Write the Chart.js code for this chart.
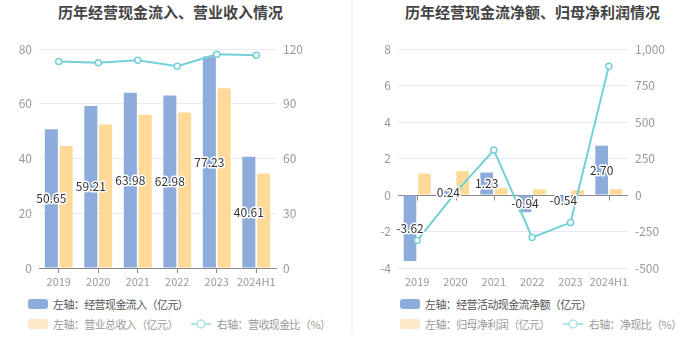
<!DOCTYPE html>
<html><head><meta charset="utf-8">
<script src="https://cdn.jsdelivr.net/npm/chart.js@4.4.0/dist/chart.umd.min.js"></script>
<style>
body{margin:0;width:700px;height:360px;background:#fff;font-family:"Noto Sans CJK SC",sans-serif;position:relative;overflow:hidden}
.title{position:absolute;top:2px;font-size:15px;font-weight:bold;color:#444;white-space:nowrap;line-height:20px}
canvas{position:absolute;top:0}
.sep{position:absolute;left:351px;top:0;width:2px;height:335px;background:#f4f4f4}
.leg{position:absolute;font-size:11px;letter-spacing:-0.6px;white-space:nowrap;display:flex;align-items:center;line-height:14px}
.box{width:20px;height:10px;border-radius:3px;margin-right:5px}
.dark{color:#555}.light{color:#999}
</style></head>
<body>
<div class="title" style="left:58px">历年经营现金流入、营业收入情况</div>
<div class="title" style="left:405px">历年经营现金流净额、归母净利润情况</div>
<div class="sep"></div>
<canvas id="c1" width="350" height="290" style="left:0"></canvas>
<canvas id="c2" width="348" height="290" style="left:352px"></canvas>

<div class="leg dark" style="left:28px;top:297px"><span class="box" style="background:#8dacdb"></span>左轴：经营现金流入（亿元）</div>
<div class="leg light" style="left:28px;top:317px"><span class="box" style="background:#fde8c8"></span>左轴：营业总收入（亿元）
<svg width="20" height="12" style="margin:0 6px 0 13px"><line x1="0" y1="6" x2="20" y2="6" stroke="#a9e3e7" stroke-width="2"/><circle cx="10" cy="6" r="4" fill="#fff" stroke="#a9e3e7" stroke-width="1.5"/></svg>右轴：营收现金比（%）</div>

<div class="leg dark" style="left:400px;top:297px"><span class="box" style="background:#8dacdb"></span>左轴：经营活动现金流净额（亿元）</div>
<div class="leg light" style="left:400px;top:317px"><span class="box" style="background:#fde8c8"></span>左轴：归母净利润（亿元）
<svg width="20" height="12" style="margin:0 6px 0 13px"><line x1="0" y1="6" x2="20" y2="6" stroke="#a9e3e7" stroke-width="2"/><circle cx="10" cy="6" r="4" fill="#fff" stroke="#a9e3e7" stroke-width="1.5"/></svg>右轴：净现比（%）</div>

<script>
const years = ['2019','2020','2021','2022','2023','2024H1'];
const cashInflow = [50.65,59.21,63.98,62.98,77.23,40.61];
const revenue = [44.6,52.4,56.0,56.8,65.7,34.5];
const cashRevenueRatio = [113.1,112.5,113.8,110.6,117.1,116.6];
const netCashFlow = [-3.62,0.24,1.23,-0.94,-0.54,2.70];
const netProfit = [1.17,1.31,0.38,0.31,0.26,0.31];
const netCashRatio = [-312,16,308,-291,-189,882];

Chart.defaults.font.family = '"Noto Sans CJK SC", sans-serif';
const BLUE='#8dacdb', ORANGE='#ffd997', TEAL='#74d0d7', GRID='#e6e9f4', TICK='#999';

const barLabels = {id:'barLabels', afterDatasetsDraw(chart){
  const meta = chart.getDatasetMeta(0), ctx = chart.ctx;
  ctx.save();
  ctx.font = '12px "Noto Sans CJK SC", sans-serif';
  ctx.textAlign='center'; ctx.textBaseline='middle';
  ctx.lineWidth=3; ctx.lineJoin='round'; ctx.strokeStyle='#fff'; ctx.fillStyle='#333';
  meta.data.forEach((bar,i)=>{
    const s = chart.data.datasets[0].data[i].toFixed(2);
    const y = (bar.y+bar.base)/2;
    ctx.strokeText(s,bar.x,y); ctx.fillText(s,bar.x,y);
  });
  ctx.restore();
}};

const zeroLine = {id:'zeroLine', beforeDatasetsDraw(chart){
  const y = Math.round(chart.scales.y.getPixelForValue(0))+0.5, ctx=chart.ctx, a=chart.chartArea;
  ctx.save(); ctx.strokeStyle='#888'; ctx.lineWidth=1;
  ctx.beginPath(); ctx.moveTo(a.left,y); ctx.lineTo(a.right,y);
  chart.scales.x.ticks.forEach((t,i)=>{const x=Math.round(chart.scales.x.getPixelForTick(i))+0.5; ctx.moveTo(x,y); ctx.lineTo(x,y+5);});
  ctx.stroke(); ctx.restore();
}};

function opts(lw, rw, ymin, ymax, ystep, y1min, y1max, y1step, fmt, showXBorder){
  return {
    responsive:false, animation:false,
    layout:{padding:{top:49,left:0,right:0,bottom:0}},
    plugins:{legend:{display:false}, tooltip:{enabled:false}},
    scales:{
      x:{offset:true,
         grid:{display:showXBorder, drawOnChartArea:false, drawTicks:true, tickLength:5, offset:false, color:'#888'},
         border:{display:showXBorder, color:'#888'},
         ticks:{color:TICK, font:{size:11}, padding:2, maxRotation:0, autoSkip:false},
         afterFit(s){s.height=22;}},
      y:{position:'left', min:ymin, max:ymax,
         ticks:{stepSize:ystep, color:TICK, font:{size:12}, padding:7},
         grid:{color:GRID, drawTicks:false}, border:{display:false},
         afterFit(s){s.width=lw;}},
      y1:{position:'right', min:y1min, max:y1max,
         ticks:{stepSize:y1step, color:TICK, font:{size:12}, padding:7, callback:fmt},
         grid:{drawOnChartArea:false, drawTicks:false}, border:{display:false},
         afterFit(s){s.width=rw;}}
    }
  };
}

function ds(a,b,c){
  return [
    {type:'bar', data:a, backgroundColor:BLUE, yAxisID:'y', order:2, categoryPercentage:0.75, barPercentage:0.88},
    {type:'bar', data:b, backgroundColor:ORANGE, yAxisID:'y', order:2, categoryPercentage:0.75, barPercentage:0.88},
    {type:'line', data:c, borderColor:TEAL, borderWidth:2, pointRadius:3, pointBorderWidth:1.5,
     pointBackgroundColor:'#fff', pointBorderColor:TEAL, yAxisID:'y1', order:1, tension:0}
  ];
}

new Chart(document.getElementById('c1'), {
  data:{labels:years, datasets:ds(cashInflow, revenue, cashRevenueRatio)},
  options:opts(39,74,0,80,20,0,120,30,v=>v,true),
  plugins:[barLabels]
});
new Chart(document.getElementById('c2'), {
  data:{labels:years, datasets:ds(netCashFlow, netProfit, netCashRatio)},
  options:opts(46,72,-4,8,2,-500,1000,250,v=>v.toLocaleString('en-US'),false),
  plugins:[barLabels, zeroLine]
});
</script>
</body></html>
